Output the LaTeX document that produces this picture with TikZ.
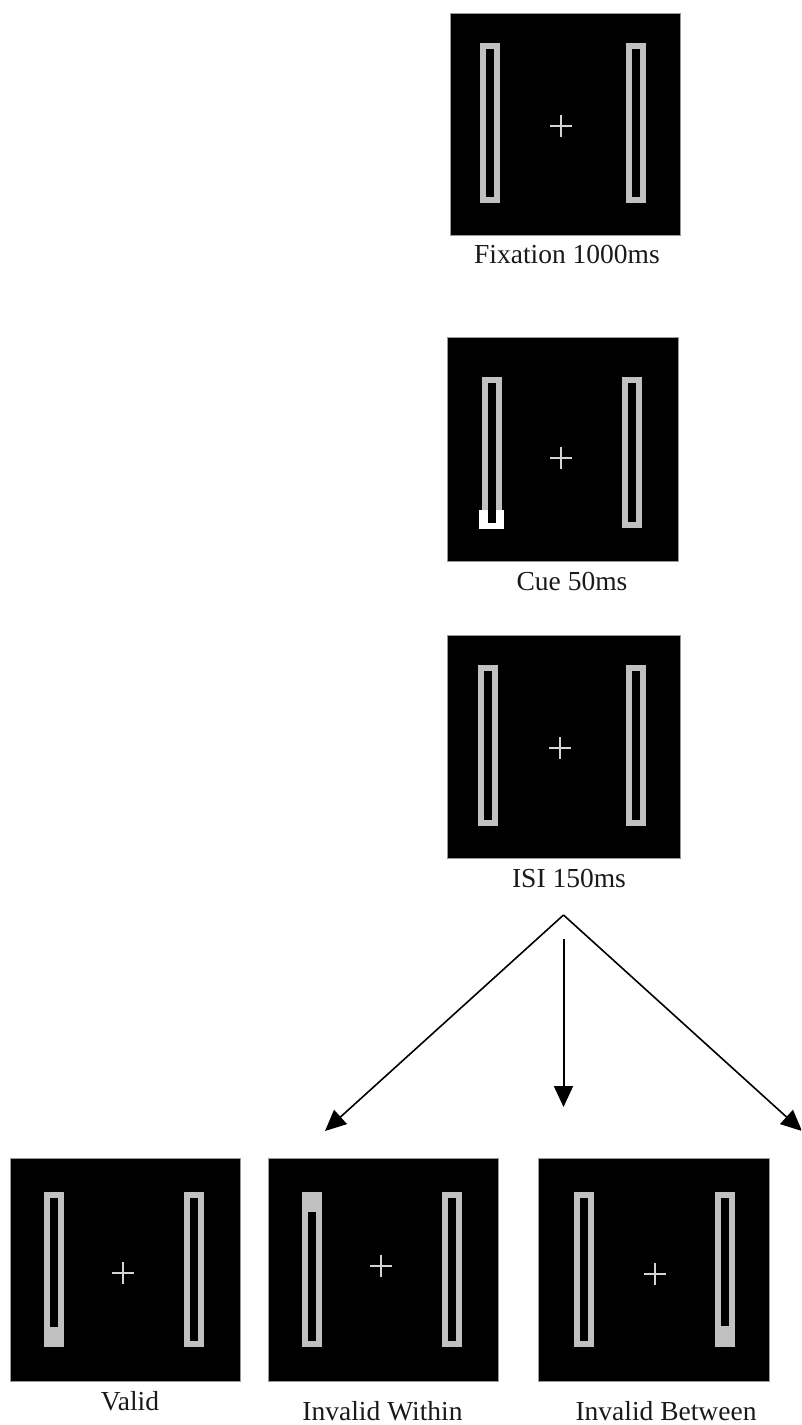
\documentclass[tikz,border=0pt]{standalone}
\usepackage{fontspec}
\setmainfont{Liberation Serif}
\usetikzlibrary{arrows.meta,calc}

\definecolor{barc}{HTML}{C0C0C0}
\definecolor{crossc}{HTML}{D4D4D4}
\definecolor{framec}{HTML}{9A9A9A}
\definecolor{labelc}{HTML}{1A1A1A}

\tikzset{
  screen/.style={fill=black, draw=framec, line width=0.8pt, inner sep=0pt},
  caption/.style={anchor=base, text=labelc, inner sep=0pt,
    font=\fontsize{27.5}{31}\selectfont},
  flow/.style={line width=1.6pt, -{Triangle[length=21pt,width=19pt]}},
}

% grey outlined bar: outer corners (x1,y1) (x2,y2); the black slot is inset
% by #5 at the top and #6 at the bottom (a larger inset leaves a filled end)
\newcommand\stimbar[6]{%
  \fill[barc] (#1,#2) rectangle (#3,#4);
  \fill[black] ($(#1,#2)+(6,#5)$) rectangle ($(#3,#4)+(-6,-#6)$);}
% fixation cross centred at (x,y)
\newcommand\fixcross[2]{%
  \draw[crossc, line width=1.8pt] (#1-11,#2) -- (#1+11,#2) (#1,#2-11) -- (#1,#2+11);}

\begin{document}
\begin{tikzpicture}[x=1pt, y=-1pt]
\useasboundingbox (0,0) rectangle (801,1425);
\clip (0,0) rectangle (801,1425);

% fixation display
\node[screen, minimum width=230, minimum height=222] (fix) at (565,124) {};
\stimbar{480}{43}{500}{203}{6}{6}
\stimbar{626}{43}{646}{203}{6}{6}
\fixcross{561}{126}
\node[caption] (fixlab) at (567,263) {Fixation 1000ms};

% cue display
\node[screen, minimum width=231, minimum height=224] (cue) at (562.5,449) {};
\fill[barc] (481.5,377) rectangle (501.5,528);
\fill[white] (479,510) rectangle (504,528.5);
\fill[black] (487.5,382.5) rectangle (495.5,522.5);
\stimbar{622}{377}{642}{528}{6}{6}
\fixcross{561}{458}
\node[caption] (cuelab) at (572,590) {Cue 50ms};

% inter-stimulus interval
\node[screen, minimum width=233, minimum height=223] (isi) at (563.5,746.5) {};
\stimbar{478}{665}{498}{826}{6}{6}
\stimbar{626}{665}{646}{826}{6}{6}
\fixcross{560}{748}
\node[caption] (isilab) at (569,887) {ISI 150ms};

% target displays
\node[screen, minimum width=230, minimum height=223] (valid) at (125,1269.5) {};
\stimbar{44}{1192}{64}{1347}{6}{20}
\stimbar{184}{1192}{204}{1347}{6}{6}
\fixcross{123}{1273}
\node[caption] (validlab) at (130,1410) {Valid};

\node[screen, minimum width=230, minimum height=223] (within) at (383,1269.5) {};
\stimbar{302}{1192}{322}{1347}{20}{6}
\stimbar{442}{1192}{462}{1347}{6}{6}
\fixcross{381}{1266}
\node[caption] (withinlab) at (382.5,1420) {Invalid Within};

\node[screen, minimum width=231, minimum height=223] (between) at (653.5,1269.5) {};
\stimbar{574}{1192}{594}{1347}{6}{6}
\stimbar{715}{1192}{735}{1347}{6}{21}
\fixcross{655}{1274}
\node[caption] (betweenlab) at (666,1420) {Invalid Between};

% branching arrows
\coordinate (split) at (563.5,915);
\coordinate (stem) at (563.5,939);
\coordinate (tipL) at (325,1131);
\coordinate (tipM) at (563.5,1107);
\coordinate (tipR) at (802,1131);
\draw[flow] (split) -- (tipL);
\draw[flow] (split) -- (tipR);
\draw[flow, line width=2pt] (stem) -- (tipM);
\end{tikzpicture}
\end{document}
